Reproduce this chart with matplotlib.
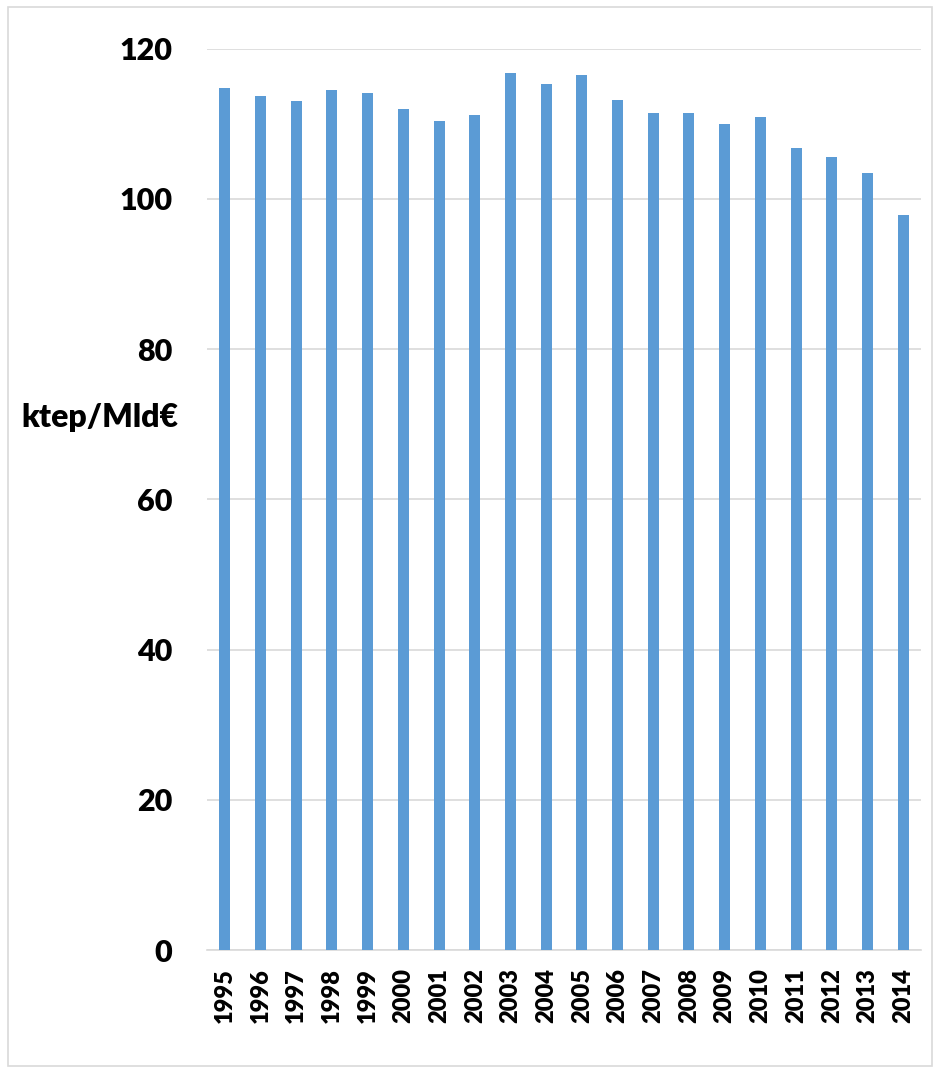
import matplotlib.pyplot as plt
from matplotlib.patches import Rectangle

years = [str(y) for y in range(1995, 2015)]
intensity = [114.8, 113.7, 113.1, 114.5, 114.1, 112.0, 110.4, 111.2, 116.7, 115.3,
             116.5, 113.2, 111.5, 111.5, 110.0, 110.9, 106.8, 105.6, 103.5, 97.9]
y_ticks = [0, 20, 40, 60, 80, 100, 120]

plt.rcParams['font.family'] = ['Lato', 'DejaVu Sans']
plt.rcParams['font.weight'] = 'heavy'

fig = plt.figure(figsize=(9.4, 10.72), dpi=100)
ax = fig.add_axes([207 / 940, 1 - 950 / 1072, 714 / 940, (950 - 48.7) / 1072])

ax.bar(range(len(years)), intensity, width=0.31, color='#5B9BD5', zorder=3)

ax.set_xlim(-0.5, len(years) - 0.5)
ax.set_ylim(0, 120)
ax.set_yticks(y_ticks)
ax.set_xticks(range(len(years)))
ax.set_xticklabels(years, rotation=90, fontsize=17, fontweight='heavy')
ax.tick_params(axis='y', labelsize=22, length=0, pad=25)
ax.tick_params(axis='x', length=0, pad=13)
ax.grid(axis='y', color='#D9D9D9', linewidth=1.2, zorder=0)

for side in ['top', 'right', 'left']:
    ax.spines[side].set_visible(False)
ax.spines['bottom'].set_color('#D9D9D9')
ax.spines['bottom'].set_linewidth(1.2)

fig.text(100 / 940, 1 - 418 / 1072, 'ktep/Mld€', ha='center', va='center',
         fontsize=23, fontweight='heavy')

fig.patches.append(Rectangle((8 / 940, 1 - 1066 / 1072), 924 / 940, 1059 / 1072,
                             transform=fig.transFigure, fill=False,
                             edgecolor='#D9D9D9', linewidth=1.2))

fig.savefig('out.png', dpi=100)
